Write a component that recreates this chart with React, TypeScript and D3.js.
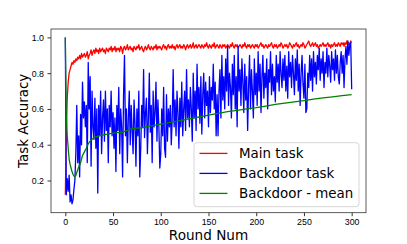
import * as React from "react";
import * as d3 from "d3";

// rounds 0..300, one value per round
const mainTask = [
  0.12, 0.45, 0.66, 0.75, 0.8, 0.82, 0.84, 0.86, 0.85, 0.87,
  0.86, 0.88, 0.87, 0.89, 0.88, 0.9, 0.88, 0.91, 0.89, 0.9,
  0.91, 0.89, 0.9, 0.92, 0.88, 0.9, 0.91, 0.93, 0.9, 0.92,
  0.93, 0.91, 0.94, 0.92, 0.93, 0.91, 0.94, 0.92, 0.93, 0.94,
  0.92, 0.93, 0.91, 0.94, 0.93, 0.92, 0.94, 0.93, 0.95, 0.92,
  0.94, 0.93, 0.95, 0.92, 0.94, 0.93, 0.94, 0.92, 0.95, 0.94,
  0.91, 0.94, 0.95, 0.93, 0.94, 0.96, 0.93, 0.94, 0.95, 0.93,
  0.94, 0.92, 0.95, 0.94, 0.93, 0.95, 0.94, 0.96, 0.93, 0.94,
  0.95, 0.93, 0.92, 0.94, 0.95, 0.93, 0.94, 0.96, 0.94, 0.93,
  0.95, 0.94, 0.93, 0.95, 0.94, 0.96, 0.93, 0.95, 0.94, 0.95,
  0.94, 0.93, 0.95, 0.96, 0.94, 0.95, 0.93, 0.95, 0.96, 0.94,
  0.95, 0.94, 0.96, 0.94, 0.95, 0.93, 0.95, 0.96, 0.94, 0.95,
  0.96, 0.94, 0.95, 0.94, 0.96, 0.95, 0.93, 0.95, 0.96, 0.94,
  0.95, 0.96, 0.94, 0.95, 0.97, 0.94, 0.95, 0.96, 0.94, 0.95,
  0.96, 0.95, 0.94, 0.96, 0.95, 0.94, 0.96, 0.95, 0.97, 0.95,
  0.94, 0.96, 0.95, 0.94, 0.96, 0.95, 0.97, 0.94, 0.95, 0.96,
  0.95, 0.94, 0.96, 0.95, 0.94, 0.96, 0.95, 0.96, 0.94, 0.95,
  0.96, 0.95, 0.94, 0.96, 0.95, 0.97, 0.95, 0.94, 0.96, 0.95,
  0.96, 0.94, 0.95, 0.96, 0.95, 0.94, 0.96, 0.95, 0.97, 0.95,
  0.94, 0.96, 0.95, 0.96, 0.94, 0.95, 0.96, 0.95, 0.94, 0.96,
  0.95, 0.96, 0.94, 0.95, 0.96, 0.97, 0.95, 0.96, 0.94, 0.95,
  0.96, 0.95, 0.94, 0.96, 0.95, 0.96, 0.97, 0.95, 0.94, 0.96,
  0.95, 0.96, 0.94, 0.95, 0.96, 0.95, 0.97, 0.96, 0.94, 0.95,
  0.96, 0.95, 0.96, 0.94, 0.95, 0.97, 0.96, 0.95, 0.94, 0.96,
  0.95, 0.96, 0.97, 0.95, 0.96, 0.94, 0.95, 0.96, 0.95, 0.97,
  0.96, 0.94, 0.95, 0.96, 0.97, 0.98, 0.96, 0.95, 0.96, 0.97,
  0.95, 0.96, 0.97, 0.95, 0.96, 0.94, 0.95, 0.96, 0.95, 0.96,
  0.97, 0.95, 0.96, 0.95, 0.96, 0.97, 0.95, 0.96, 0.94, 0.96,
  0.95, 0.96, 0.97, 0.95, 0.96, 0.95, 0.97, 0.96, 0.95, 0.97,
  0.96, 0.97, 0.95, 0.97, 0.96, 0.98, 0.96, 0.97, 0.96, 0.98,
  0.97,
];

const backdoorTask = [
  1.0, 0.12, 0.21, 0.14, 0.23, 0.08, 0.12, 0.07, 0.09, 0.15,
  0.2, 0.35, 0.62, 0.3, 0.45, 0.22, 0.57, 0.4, 0.75, 0.55,
  0.64, 0.5, 0.62, 0.3, 0.86, 0.6, 0.78, 0.28, 0.7, 0.5,
  0.43, 0.66, 0.38, 0.6, 0.13, 0.62, 0.45, 0.7, 0.35, 0.55,
  0.65, 0.42, 0.7, 0.48, 0.6, 0.3, 0.62, 0.5, 0.7, 0.45,
  0.58, 0.38, 0.55, 0.25, 0.62, 0.48, 0.72, 0.35, 0.6, 0.5,
  0.22, 0.68, 0.9, 0.45, 0.6, 0.3, 0.55, 0.7, 0.4, 0.62,
  0.48, 0.35, 0.65, 0.52, 0.28, 0.6, 0.45, 0.7, 0.22, 0.38,
  0.62, 0.5, 0.82, 0.44, 0.58, 0.66, 0.35, 0.55, 0.8, 0.47,
  0.62, 0.3, 0.7, 0.5, 0.58, 0.75, 0.42, 0.65, 0.5, 0.27,
  0.35, 0.6, 0.45, 0.72, 0.38, 0.33, 0.68, 0.42, 0.6, 0.5,
  0.62, 0.4, 0.55, 0.82, 0.5, 0.65, 0.45, 0.7, 0.58, 0.38,
  0.66, 0.5, 0.75, 0.45, 0.6, 0.7, 0.48, 0.82, 0.55, 0.65,
  0.5, 0.72, 0.6, 0.42, 0.8, 0.55, 0.7, 0.48, 0.85, 0.6,
  0.72, 0.52, 0.78, 0.46, 0.68, 0.8, 0.55, 0.75, 0.62, 0.7,
  0.5, 0.78, 0.58, 0.72, 0.65, 0.85, 0.6, 0.75, 0.45, 0.68,
  0.45, 0.7, 0.82, 0.55, 0.9, 0.65, 0.78, 0.6, 0.88, 0.7,
  0.95, 0.62, 0.8, 0.72, 0.55, 0.85, 0.68, 0.9, 0.6, 0.78,
  0.5, 0.95, 0.7, 0.82, 0.62, 0.88, 0.75, 0.58, 0.85, 0.65,
  0.78, 0.48, 0.72, 0.9, 0.6, 0.82, 0.7, 0.55, 0.88, 0.68,
  0.8, 0.62, 0.92, 0.7, 0.85, 0.58, 0.78, 0.9, 0.66, 0.8,
  0.72, 0.88, 0.6, 0.82, 0.75, 0.92, 0.68, 0.85, 0.7, 0.78,
  0.64, 0.9, 0.75, 0.85, 0.7, 0.92, 0.8, 0.72, 0.88, 0.76,
  0.9, 0.7, 0.84, 0.66, 0.92, 0.78, 0.86, 0.72, 0.9, 0.8,
  0.68, 0.88, 0.76, 0.93, 0.7, 0.85, 0.62, 0.8, 0.9, 0.74,
  0.66, 0.85, 0.58, 0.6, 0.8, 0.72, 0.9, 0.76, 0.88, 0.7,
  0.92, 0.78, 0.86, 0.74, 0.9, 0.82, 0.94, 0.76, 0.88, 0.8,
  0.92, 0.72, 0.86, 0.8, 0.94, 0.78, 0.9, 0.84, 0.75, 0.92,
  0.82, 0.88, 0.76, 0.93, 0.8, 0.9, 0.78, 0.74, 0.86, 0.92,
  0.8, 0.9, 0.72, 0.88, 0.95, 0.85, 0.98, 0.9, 0.96, 0.97,
  0.71,
];

// running mean of the backdoor task, read at these rounds
const meanRounds = [
  0, 1, 2, 3, 4, 5, 6, 7, 8, 9, 10, 11, 12, 13, 14, 15, 16, 17, 18, 19,
  20, 22, 24, 26, 28, 30, 35, 40, 50, 60, 70, 80, 90, 100, 110, 120, 130,
  140, 150, 160, 170, 180, 190, 200, 210, 220, 230, 240, 250, 260, 270,
  280, 290, 300,
];
const meanValues = [
  1.0, 0.57, 0.45, 0.38, 0.32, 0.29, 0.27, 0.25, 0.235, 0.225, 0.222, 0.228,
  0.245, 0.26, 0.275, 0.285, 0.3, 0.32, 0.34, 0.35,
  0.36, 0.38, 0.405, 0.42, 0.43, 0.44, 0.45, 0.455, 0.465, 0.47, 0.49, 0.495,
  0.505, 0.515, 0.525, 0.535, 0.545, 0.555, 0.565, 0.575, 0.585, 0.592,
  0.6, 0.607, 0.616, 0.625, 0.633, 0.64, 0.647, 0.655, 0.662, 0.668, 0.674,
  0.68,
];

const xTicks = [0, 50, 100, 150, 200, 250, 300];
const yTicks = [0.2, 0.4, 0.6, 0.8, 1.0];
const legendLabels = ["Main task", "Backdoor task", "Backdoor - mean"];
const colors = ["#ff0000", "#0000ff", "#008000"];

export default function App() {
  const ref = React.useRef<HTMLDivElement | null>(null);
  React.useEffect(() => {
    const width = 407;
    const height = 244;
    const left = 51,
      right = 366,
      top = 29,
      bottom = 212.7;

    const svg = d3
      .select(ref.current)
      .append("svg")
      .attr("width", width)
      .attr("height", height)
      .style("display", "block")
      .style("font-family", "'DejaVu Sans', sans-serif");

    const x = d3.scaleLinear([-15, 315], [left, right]);
    const y = d3.scaleLinear([0.02, 1.047], [bottom, top]);

    svg
      .append("defs")
      .append("clipPath")
      .attr("id", "plotArea")
      .append("rect")
      .attr("x", left)
      .attr("y", top)
      .attr("width", right - left)
      .attr("height", bottom - top);

    const line = d3
      .line<[number, number]>()
      .x((d) => x(d[0]))
      .y((d) => y(d[1]));

    const plot = svg.append("g").attr("clip-path", "url(#plotArea)");

    const series: [number, number][][] = [
      mainTask.map((v, i) => [i, v]),
      backdoorTask.map((v, i) => [i, v]),
      meanRounds.map((r, i) => [r, meanValues[i]]),
    ];
    // main, then backdoor, then the mean over the blue
    [0, 1, 2].forEach((k) => {
      plot
        .append("path")
        .attr("d", line(series[k]))
        .attr("fill", "none")
        .attr("stroke", colors[k])
        .attr("stroke-width", 1.3)
        .attr("stroke-linejoin", "round");
    });

    // axes
    const xAxis = d3
      .axisBottom(x)
      .tickValues(xTicks)
      .tickSize(3.5)
      .tickPadding(3)
      .tickFormat((d) => d.toString());
    const xg = svg
      .append("g")
      .attr("transform", `translate(0,${bottom})`)
      .call(xAxis);
    xg.select(".domain").remove();
    xg.selectAll("text").attr("fill", "#000").style("font-size", "8.8px");
    xg.selectAll("line").attr("stroke", "#000").attr("stroke-width", 0.8);

    const yAxis = d3
      .axisLeft(y)
      .tickValues(yTicks)
      .tickSize(3.5)
      .tickPadding(3.5)
      .tickFormat(d3.format(".1f"));
    const yg = svg
      .append("g")
      .attr("transform", `translate(${left},0)`)
      .call(yAxis);
    yg.select(".domain").remove();
    yg.selectAll("text").attr("fill", "#000").style("font-size", "8.8px");
    yg.selectAll("line").attr("stroke", "#000").attr("stroke-width", 0.8);

    svg
      .append("rect")
      .attr("x", left)
      .attr("y", top)
      .attr("width", right - left)
      .attr("height", bottom - top)
      .attr("fill", "none")
      .attr("stroke", "#333")
      .attr("stroke-width", 0.8);

    svg
      .append("text")
      .attr("x", (left + right) / 2)
      .attr("y", 240)
      .attr("text-anchor", "middle")
      .style("font-size", "13.6px")
      .text("Round Num");

    svg
      .append("text")
      .attr("transform", `translate(28,${(top + bottom) / 2}) rotate(-90)`)
      .attr("text-anchor", "middle")
      .style("font-size", "13.4px")
      .text("Task Accuracy");

    // legend
    const lg = svg.append("g");
    lg.append("rect")
      .attr("x", 194)
      .attr("y", 142.7)
      .attr("width", 165)
      .attr("height", 64)
      .attr("rx", 3)
      .attr("fill", "#fff")
      .attr("fill-opacity", 0.8)
      .attr("stroke", "#cccccc")
      .attr("stroke-width", 0.8);
    legendLabels.forEach((label, i) => {
      const cy = 153.4 + i * 20;
      lg.append("line")
        .attr("x1", 199.5)
        .attr("x2", 227.5)
        .attr("y1", cy)
        .attr("y2", cy)
        .attr("stroke", colors[i])
        .attr("stroke-width", 1.3);
      lg.append("text")
        .attr("x", 239)
        .attr("y", cy)
        .attr("dy", "0.36em")
        .style("font-size", "13.4px")
        .text(label);
    });

    return function cleanup() {
      // eslint-disable-next-line react-hooks/exhaustive-deps
      d3.select(ref.current).selectAll("svg").remove();
    };
  }, []);

  return (
    <div
      ref={ref}
      style={{ position: "absolute", left: 0, top: 0, background: "#fff" }}
    ></div>
  );
}
